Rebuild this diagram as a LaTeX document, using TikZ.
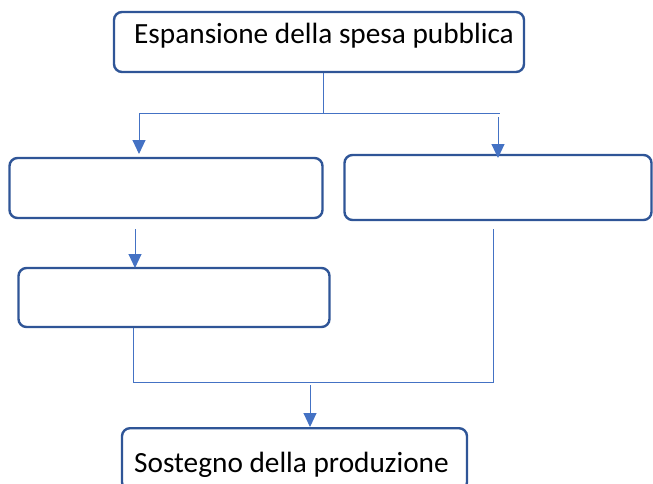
\documentclass[tikz,border=0pt]{standalone}
\usepackage{fontspec}
\setmainfont{Carlito}
\usetikzlibrary{arrows.meta}
\definecolor{boxblue}{HTML}{2F5597}
\definecolor{lineblue}{HTML}{4472C4}
\tikzset{
  box/.style={draw=boxblue, line width=2.4pt, rounded corners=8pt, fill=white, inner sep=0pt},
  conn/.style={draw=lineblue, line width=1pt},
  arr/.style={conn, -{Triangle[width=13pt,length=14pt]}},
  txt/.style={anchor=base west, inner sep=0pt, font=\fontsize{29.3}{34}\selectfont, text=black}
}
\begin{document}
\begin{tikzpicture}[x=1pt,y=-1pt]
\useasboundingbox (0,0) rectangle (653,483);
\clip (0,0) rectangle (653,483);
% boxes
\node[box, minimum width=410pt, minimum height=60pt] (top) at (319,42) {};
\node[box, minimum width=313pt, minimum height=60pt] (b1) at (166,188) {};
\node[box, minimum width=307pt, minimum height=65pt] (b2) at (498,187.5) {};
\node[box, minimum width=311pt, minimum height=59pt] (b3) at (174,297.5) {};
\node[box, minimum width=345pt, minimum height=62pt, anchor=north] (bot) at (294.5,427) {};
% texts
\node[txt] (toptxt) at (134,43) {Espansione della spesa pubblica};
\node[txt] (bottxt) at (134,472) {Sostegno della produzione};
% connectors
\coordinate (j1) at (323,113);
\coordinate (hl) at (139,113);
\coordinate (hr) at (500,113);
\coordinate (a1) at (139,154);
\coordinate (r0) at (498,117);
\coordinate (r1) at (498,158);
\coordinate (m0) at (135,229);
\coordinate (m1) at (135,268);
\coordinate (l0) at (133,382);
\coordinate (rr0) at (493,229);
\coordinate (rr1) at (493,382);
\coordinate (d0) at (310,385);
\draw[conn] (top.south -| j1) -- (j1);
\draw[conn] (hl) -- (hr);
\draw[arr] (hl) -- (a1);
\draw[arr] (r0) -- (r1);
\draw[arr] (m0) -- (m1);
\draw[conn] (b3.south -| l0) -- (l0) -- (rr1) -- (rr0);
\draw[arr] (d0) -- (bot.north -| d0);
\end{tikzpicture}
\end{document}
